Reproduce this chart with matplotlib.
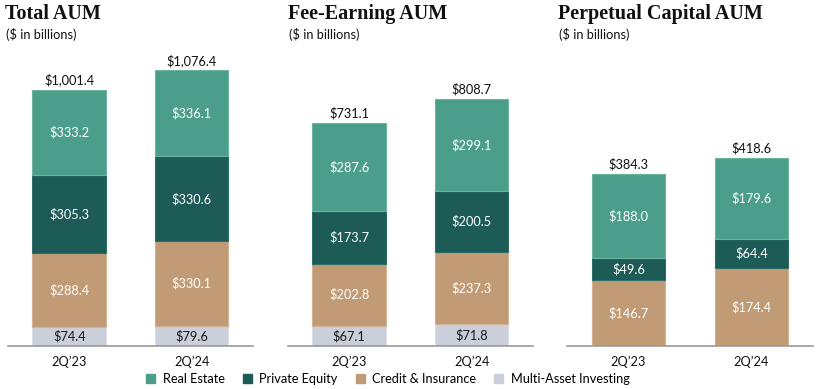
import numpy as np
import matplotlib
matplotlib.use("Agg")
import matplotlib.pyplot as plt
from matplotlib.patches import Patch

# data ($ in billions)
quarters = ["2Q\u201923", "2Q\u201924"]
panels = ["Total AUM", "Fee-Earning AUM", "Perpetual Capital AUM"]
segments = ["Real Estate", "Private Equity", "Credit & Insurance", "Multi-Asset Investing"]

total_multi = [74.4, 79.6]
total_credit = [288.4, 330.1]
total_pe = [305.3, 330.6]
total_re = [333.2, 336.1]
total_sum = [1001.4, 1076.4]

fee_multi = [67.1, 71.8]
fee_credit = [202.8, 237.3]
fee_pe = [173.7, 200.5]
fee_re = [287.6, 299.1]
fee_sum = [731.1, 808.7]

perp_multi = [0.0, 0.0]
perp_credit = [146.7, 174.4]
perp_pe = [49.6, 64.4]
perp_re = [188.0, 179.6]
perp_sum = [384.3, 418.6]

# styling
colors = {"Real Estate": "#4b9e89", "Private Equity": "#1c5b56",
          "Credit & Insurance": "#c19b75", "Multi-Asset Investing": "#cbcfd9"}
edges = {"Real Estate": "#6db3a1", "Private Equity": "#2f6e68",
         "Credit & Insurance": "#d2b293", "Multi-Asset Investing": "#dcdfe6"}
txt_colors = {"Real Estate": "white", "Private Equity": "white",
              "Credit & Insurance": "white", "Multi-Asset Investing": "#1a1a1a"}
label_font = "Lato"
fs = 9.2

W, H = 820, 389
fig = plt.figure(figsize=(W / 100, H / 100), dpi=100)

# axes placement in pixels: (left, right), baseline 346, top 60
ax_x = [(8, 253), (288, 533), (567, 813)]
ymaxes = [1117, 937.5, 638]
title_x = [5, 288, 558]

data = [
    (total_re, total_pe, total_credit, total_multi, total_sum),
    (fee_re, fee_pe, fee_credit, fee_multi, fee_sum),
    (perp_re, perp_pe, perp_credit, perp_multi, perp_sum),
]

x = np.arange(len(quarters))
for i, (re, pe, cr, mu, tot) in enumerate(data):
    l, r = ax_x[i]
    ax = fig.add_axes([l / W, (H - 346) / H, (r - l) / W, 286 / H])
    series = {"Multi-Asset Investing": mu, "Credit & Insurance": cr,
              "Private Equity": pe, "Real Estate": re}
    bottom = np.zeros(len(quarters))
    for name in ["Multi-Asset Investing", "Credit & Insurance", "Private Equity", "Real Estate"]:
        vals = np.array(series[name])
        ax.bar(x, vals, 0.6, bottom=bottom, color=colors[name],
               edgecolor=edges[name], linewidth=0.8)
        for xi, v, b in zip(x, vals, bottom):
            if v > 0:
                ax.text(xi, b + v / 2, f"${v:,.1f}", ha="center", va="center",
                        fontsize=fs, family=label_font, color=txt_colors[name])
        bottom += vals
    for xi, t in zip(x, tot):
        ax.text(xi, t + ymaxes[i] * 0.012, f"${t:,.1f}", ha="center",
                va="bottom", fontsize=fs, family=label_font, color="#111111")
    ax.set_xlim(-0.5, 1.5)
    ax.set_ylim(0, ymaxes[i])
    ax.set_xticks(x)
    ax.set_xticklabels(quarters, fontsize=fs, family=label_font, color="#111111")
    ax.tick_params(axis="x", length=0, pad=7)
    ax.set_yticks([])
    for s in ["top", "left", "right"]:
        ax.spines[s].set_visible(False)
    ax.spines["bottom"].set_color("#9a9a9a")
    ax.spines["bottom"].set_linewidth(1.2)

    fig.text(title_x[i] / W, 1 - 19 / H, panels[i], fontsize=14.5, fontweight="bold",
             family="Liberation Serif", color="#111111", ha="left", va="baseline")
    fig.text(title_x[i] / W + 1 / W, 1 - 39 / H, "($ in billions)", fontsize=fs,
             family=label_font, color="#111111", ha="left", va="baseline")

handles = [Patch(facecolor=colors[s], edgecolor=colors[s]) for s in segments]
fig.legend(handles, segments, loc="center", bbox_to_anchor=(388 / W, 1 - 379 / H),
           ncol=4, frameon=False, prop={"family": label_font, "size": fs},
           handlelength=0.7, handleheight=0.7, handletextpad=0.6, columnspacing=1.4)

fig.savefig("out.png", dpi=100)
